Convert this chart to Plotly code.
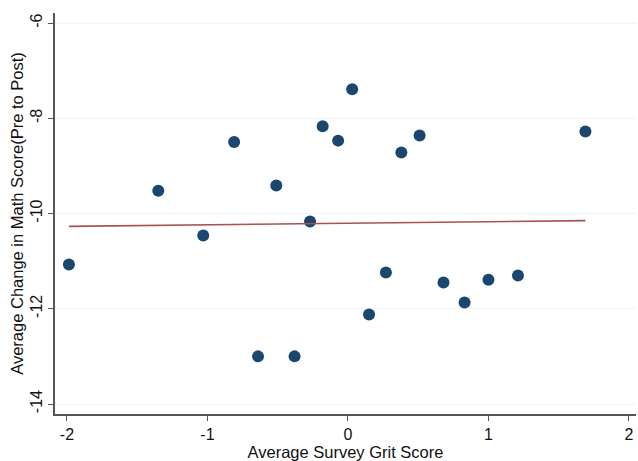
import plotly.graph_objects as go

grit = [-1.986, -1.35, -1.03, -0.81, -0.64, -0.51, -0.38, -0.27, -0.18, -0.07,
        0.03, 0.15, 0.27, 0.38, 0.51, 0.68, 0.83, 1.0, 1.21, 1.69]
math_change = [-11.07, -9.52, -10.46, -8.50, -13.0, -9.41, -13.0, -10.17, -8.17, -8.47,
               -7.39, -12.12, -11.24, -8.72, -8.36, -11.45, -11.87, -11.39, -11.30, -8.28]
fit_x = [-1.986, 1.69]
fit_y = [-10.27, -10.15]
x_ticks = [-2, -1, 0, 1, 2]
y_ticks = [-6, -8, -10, -12, -14]

fig = go.Figure()
fig.add_trace(go.Scatter(x=grit, y=math_change, mode="markers",
                         marker=dict(color="#1a476f", size=12, line=dict(width=0)),
                         showlegend=False))
fig.add_trace(go.Scatter(x=fit_x, y=fit_y, mode="lines",
                         line=dict(color="#a8524f", width=1.6),
                         showlegend=False))

font = "Liberation Sans, Arial, sans-serif"
fig.update_layout(
    width=638, height=461,
    margin=dict(l=55, r=2, t=13, b=47, autoexpand=False),
    paper_bgcolor="white", plot_bgcolor="white",
    font=dict(family=font, size=16, color="#111"),
    xaxis=dict(range=[-2.085, 2.05], tickvals=x_ticks, ticktext=[str(v) for v in x_ticks],
               showgrid=False, zeroline=False, showline=True, linecolor="#555", linewidth=1.5,
               ticks="outside", ticklen=5, tickcolor="#555", automargin=False,
               ticklabelstandoff=0,
               title=dict(text="Average Survey Grit Score", standoff=1, font=dict(size=16.5))),
    yaxis=dict(range=[-14.21, -5.79], tickvals=y_ticks, ticktext=[str(v) for v in y_ticks],
               tickangle=-90,
               showgrid=True, gridcolor="#eef3f5", gridwidth=1, zeroline=False,
               showline=True, linecolor="#555", linewidth=1.5,
               ticks="outside", ticklen=5, tickcolor="#555", automargin=False,
               ticklabelstandoff=0,
               title=dict(text="Average Change in Math Score(Pre to Post)", standoff=0, font=dict(size=16.5))),
)
fig.write_html("out.html", config={"displayModeBar": False},
               post_script="document.body.style.margin='0px';")
